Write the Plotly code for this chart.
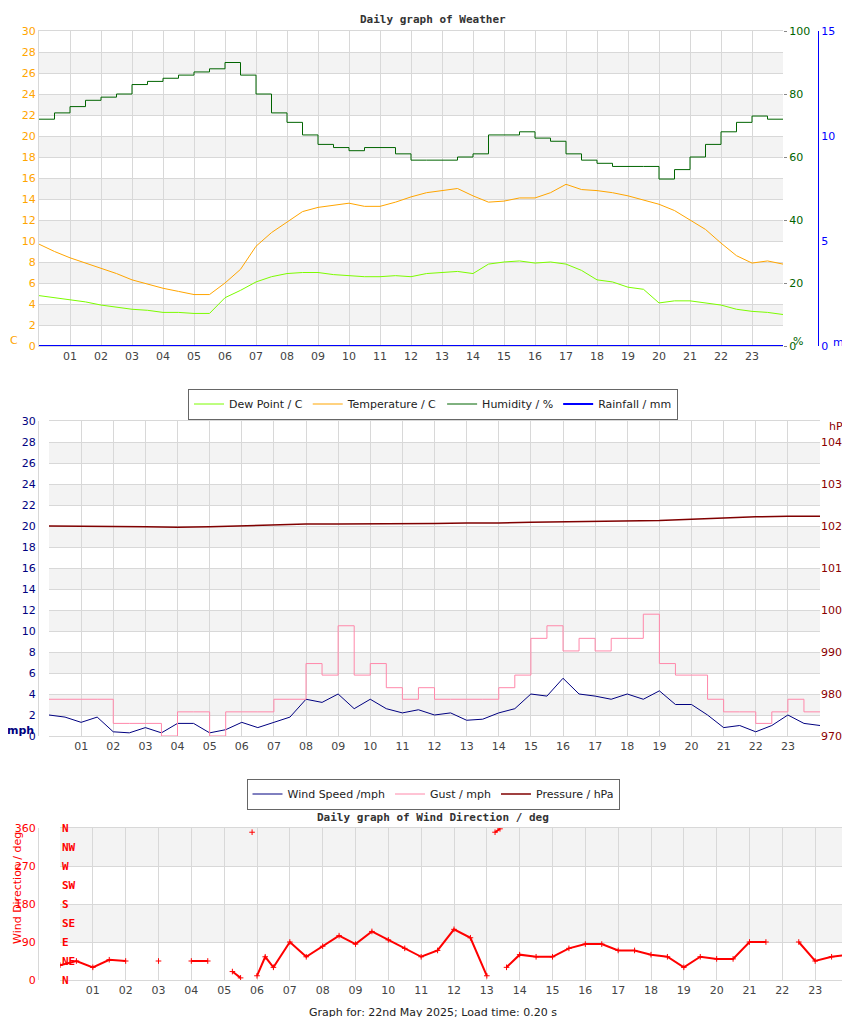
import plotly.graph_objects as go

hours = [i * 0.5 for i in range(49)]
temperature = [9.7,9.0,8.4,7.9,7.4,6.9,6.3,5.9,5.5,5.2,4.9,4.9,6.0,7.3,9.5,10.8,11.8,12.8,13.2,13.4,13.6,13.3,13.3,13.7,14.2,14.6,14.8,15.0,14.3,13.7,13.8,14.1,14.1,14.6,15.4,14.9,14.8,14.6,14.3,13.9,13.5,12.9,12.0,11.1,9.8,8.6,7.9,8.1,7.8]
dew_point = [4.8,4.6,4.4,4.2,3.9,3.7,3.5,3.4,3.2,3.2,3.1,3.1,4.6,5.3,6.1,6.6,6.9,7.0,7.0,6.8,6.7,6.6,6.6,6.7,6.6,6.9,7.0,7.1,6.9,7.8,8.0,8.1,7.9,8.0,7.8,7.2,6.3,6.1,5.6,5.4,4.1,4.3,4.3,4.1,3.9,3.5,3.3,3.2,3.0]
humidity = [72,74,76,78,79,80,83,84,85,86,87,88,90,86,80,74,71,67,64,63,62,63,63,61,59,59,59,60,61,67,67,68,66,65,61,59,58,57,57,57,53,56,60,64,68,71,73,72,72]
rainfall = [0.0] * 49

wind_speed = [2.0,1.8,1.3,1.8,0.4,0.3,0.8,0.3,1.2,1.2,0.3,0.6,1.3,0.8,1.3,1.8,3.5,3.2,4.0,2.6,3.5,2.6,2.2,2.5,2.0,2.2,1.5,1.6,2.2,2.6,4.0,3.8,5.5,4.0,3.8,3.5,4.0,3.5,4.3,3.0,3.0,2.0,0.8,1.0,0.4,1.0,2.0,1.2,1.0]
gust = [3.5,3.5,3.5,3.5,1.2,1.2,1.2,0.0,2.3,2.3,0.0,2.3,2.3,2.3,3.5,3.5,6.9,5.8,10.5,5.8,6.9,4.6,3.5,4.6,3.5,3.5,3.5,3.5,4.6,5.8,9.3,10.5,8.1,9.3,8.1,9.3,9.3,11.6,6.9,5.8,5.8,3.5,2.3,2.3,1.2,2.3,3.5,2.3,2.3]
p_hours = list(range(25))
pressure = [1020.0,1020.0,1019.9,1019.8,1019.7,1019.8,1020.0,1020.2,1020.5,1020.5,1020.5,1020.6,1020.6,1020.7,1020.7,1020.9,1021.0,1021.0,1021.1,1021.3,1021.6,1021.9,1022.2,1022.3,1022.3]

dir_hours = [0,0.5,1,1.5,2,2.5,3,3.5,4,4.5,5,5.25,5.5,5.75,5.85,5.95,6,6.25,6.5,7,7.5,8,8.5,9,9.5,10,10.5,11,11.5,12,12.5,13,13.1,13.25,13.4,13.5,13.6,14,14.5,15,15.5,16,16.5,17,17.5,18,18.5,19,19.5,20,20.5,21,21.5,22,22.5,23,23.5,24]
wind_dir = [35,45,30,48,45,None,45,None,45,45,None,20,5,None,350,None,10,55,30,90,55,80,105,85,115,95,75,55,70,120,100,10,None,350,358,None,30,60,55,55,75,85,85,70,70,60,55,30,55,50,50,90,90,None,90,45,55,60]

tick_vals = list(range(25))
tick_text = [""] + ["%02d" % h for h in range(1, 24)] + [""]
compass = ["N", "NE", "E", "SE", "S", "SW", "W", "NW", "N"]
compass_deg = [0, 45, 90, 135, 180, 225, 270, 315, 360]

FONT = "DejaVu Sans"
MONO = "DejaVu Sans Mono"
GRID = "#d8d8d8"
BAND = "#f3f3f3"

def py(px):
    return 1 - px / 1017

fig = go.Figure()
fig.add_trace(go.Scatter(x=hours, y=dew_point, name="Dew Point / C", line=dict(color="#7CFC00", width=1), legend="legend"))
fig.add_trace(go.Scatter(x=hours, y=temperature, name="Temperature / C", line=dict(color="#FFA500", width=1), legend="legend"))
fig.add_trace(go.Scatter(x=hours, y=humidity, name="Humidity / %", line=dict(color="#006400", width=1, shape="hv"), yaxis="y2", legend="legend"))
fig.add_trace(go.Scatter(x=hours, y=rainfall, name="Rainfall / mm", line=dict(color="#0000FF", width=2), yaxis="y3", legend="legend"))

fig.add_trace(go.Scatter(x=hours, y=wind_speed, name="Wind Speed /mph", line=dict(color="#000080", width=1), xaxis="x2", yaxis="y4", legend="legend2"))
fig.add_trace(go.Scatter(x=hours, y=gust, name="Gust / mph", line=dict(color="#FF88AA", width=1, shape="hv"), xaxis="x2", yaxis="y4", legend="legend2"))
fig.add_trace(go.Scatter(x=p_hours, y=pressure, name="Pressure / hPa", line=dict(color="#800000", width=1.5), xaxis="x2", yaxis="y5", legend="legend2"))

fig.add_trace(go.Scatter(x=dir_hours, y=wind_dir, mode="lines+markers", line=dict(color="#FF0000", width=2),
                         marker=dict(symbol="cross-thin", size=4, color="#FF0000", line=dict(color="#FF0000", width=1)),
                         xaxis="x3", yaxis="y6", showlegend=False))

TF = 11
xcommon = dict(range=[0, 24], tickmode="array", tickvals=tick_vals, ticktext=tick_text, showgrid=True, gridcolor=GRID,
               zeroline=False, showline=True, linecolor=GRID, mirror=True, ticks="", automargin=False,
               tickfont=dict(family=FONT, size=TF, color="#444"))

fig.update_layout(
    width=850, height=1017, margin=dict(l=0, r=0, t=0, b=0, autoexpand=False), paper_bgcolor="white", plot_bgcolor="white",
    xaxis=dict(domain=[31/850, 775/850], anchor="y", **xcommon),
    yaxis=dict(domain=[py(338), py(23)], range=[0, 30], dtick=2, gridcolor=GRID, zeroline=False, showline=True, linecolor=GRID,
               automargin=False, tickfont=dict(family=FONT, size=TF, color="#FFA500")),
    yaxis2=dict(overlaying="y", side="right", anchor="x", range=[0, 100], dtick=20, showgrid=False, zeroline=False, automargin=False,
                ticks="outside", ticklen=3, tickcolor="#888", tickfont=dict(family=FONT, size=TF, color="#006400")),
    yaxis3=dict(overlaying="y", side="right", anchor="free", position=810/850, range=[0, 15], dtick=5, showgrid=False, zeroline=False,
                automargin=False, showline=True, linecolor="#0000FF", tickfont=dict(family=FONT, size=TF, color="#0000FF")),
    xaxis2=dict(domain=[41/850, 812/850], anchor="y4", **xcommon),
    yaxis4=dict(domain=[py(728), py(413)], range=[0, 30], dtick=2, gridcolor=GRID, zeroline=False, showline=True, linecolor=GRID,
                automargin=False, tickfont=dict(family=FONT, size=TF, color="#000080")),
    yaxis5=dict(overlaying="y4", side="right", anchor="x2", range=[970, 1045], tickvals=[970,980,990,1000,1010,1020,1030,1040],
                automargin=False, showgrid=False, zeroline=False, tickfont=dict(family=FONT, size=TF, color="#8B0000")),
    xaxis3=dict(domain=[52/850, 840/850], anchor="y6", **xcommon),
    yaxis6=dict(domain=[py(972), py(820)], range=[0, 360], dtick=90, gridcolor=GRID, zeroline=False, showline=True, linecolor=GRID,
                automargin=False, tickfont=dict(family=FONT, size=TF, color="#FF0000")),
    legend=dict(orientation="h", x=0.5, xanchor="center", y=py(396), yanchor="middle", bordercolor="#666", borderwidth=1,
                font=dict(family=FONT, size=11, color="#222"), itemwidth=30),
    legend2=dict(orientation="h", x=0.5, xanchor="center", y=py(786), yanchor="middle", bordercolor="#666", borderwidth=1,
                 font=dict(family=FONT, size=11, color="#222"), itemwidth=30, traceorder="normal"),
    showlegend=True,
)

shapes = []
for lo in range(2, 28, 4):
    shapes.append(dict(type="rect", xref="x domain", yref="y", x0=0, x1=1, y0=lo, y1=lo + 2, fillcolor=BAND, line_width=0, layer="below"))
    shapes.append(dict(type="rect", xref="x2 domain", yref="y4", x0=0, x1=1, y0=lo, y1=lo + 2, fillcolor=BAND, line_width=0, layer="below"))
for lo in (90, 270):
    shapes.append(dict(type="rect", xref="x3 domain", yref="y6", x0=0, x1=1, y0=lo, y1=lo + 90, fillcolor=BAND, line_width=0, layer="below"))
fig.update_layout(shapes=shapes)

ann = [
    dict(text="<b>Daily graph of Weather</b>", x=0.5, y=py(12), font=dict(family=MONO, size=11, color="#333")),
    dict(text="<b>Daily graph of Wind Direction / deg</b>", x=0.5, y=py(809), font=dict(family=MONO, size=11, color="#333")),
    dict(text="Graph for: 22nd May 2025; Load time: 0.20 s", x=0.5, y=py(1004), font=dict(family=FONT, size=11, color="#222")),
    dict(text="C", x=6/850, y=py(332), font=dict(family=FONT, size=11, color="#FFA500")),
    dict(text="%", x=790/850, y=py(333), font=dict(family=FONT, size=11, color="#006400")),
    dict(text="mm", x=835/850, y=py(334), font=dict(family=FONT, size=11, color="#0000FF")),
    dict(text="<b>mph</b>", x=12/850, y=py(722), font=dict(family=FONT, size=11, color="#000080")),
    dict(text="hPa", x=831/850, y=py(418), font=dict(family=FONT, size=11, color="#8B0000")),
]
for a in ann:
    a.update(xref="paper", yref="paper", showarrow=False, xanchor="center", yanchor="middle")
ann.append(dict(text="Wind Direction / deg", xref="paper", yref="paper", x=9/850, y=py(880), textangle=-90, showarrow=False,
                xanchor="center", yanchor="middle", font=dict(family=FONT, size=11, color="#FF0000")))
for lab, d in zip(compass, compass_deg):
    ann.append(dict(text="<b>" + lab + "</b>", xref="paper", yref="y6", x=52/850, y=d, showarrow=False,
                    xanchor="left", yanchor="middle", font=dict(family=MONO, size=11, color="#FF0000")))
fig.update_layout(annotations=ann)

fig.write_html("out.html")
